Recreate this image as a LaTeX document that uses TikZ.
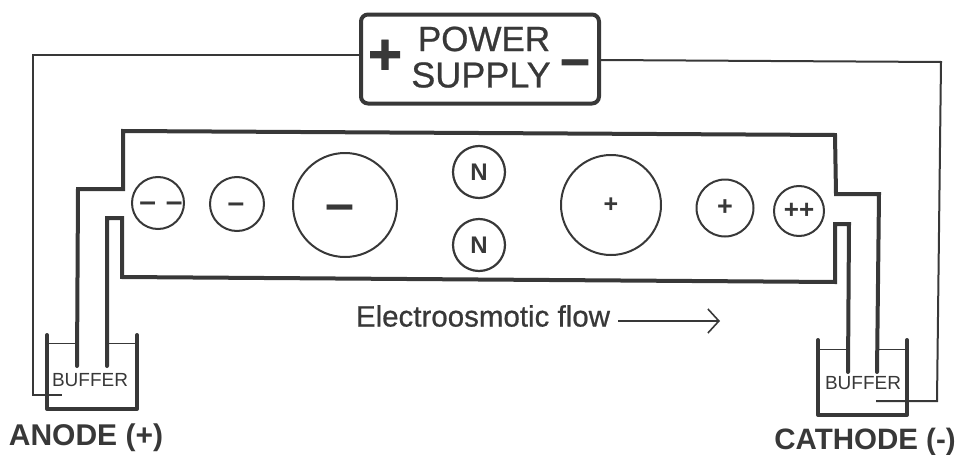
\documentclass[tikz,border=0pt]{standalone}
\usepackage{fontspec}
\setmainfont{Liberation Sans}
\newfontfamily\medf[FakeBold=0.7]{Liberation Sans}
\newfontfamily\heavyf[FakeBold=1.5]{Liberation Sans Bold}
\usetikzlibrary{arrows.meta}
\definecolor{ink}{HTML}{383838}
\tikzset{
  wall/.style={draw=ink,line width=4pt,line join=miter},
  beaker/.style={draw=ink,line width=4pt,line cap=round,line join=round},
  wire/.style={draw=ink,line width=2pt,line join=miter},
  liquid/.style={draw=ink,line width=0.8pt},
  ion/.style={draw=ink,line width=2pt,circle,inner sep=0pt,text=ink},
  lab/.style={text=ink,inner sep=0pt,anchor=center},
}
\begin{document}
\begin{tikzpicture}[x=1pt,y=-1pt]
\useasboundingbox (0,0) rectangle (956,455);
% power supply
\node[draw=ink,line width=4pt,rounded corners=7pt,minimum width=238pt,minimum height=89pt,inner sep=0pt] (ps) at (480,59) {};
\node[lab,font=\medf\fontsize{35}{35}\selectfont] (pw) at (484,39) {POWER};
\node[lab,font=\medf\fontsize{36}{36}\selectfont] (sp) at (481,75) {SUPPLY};
\node[lab,font=\heavyf\fontsize{58}{58}\selectfont] (pl) at (385,57) {+};
\node[lab,font=\heavyf\fontsize{52}{52}\selectfont] (mi) at (575,68) {–};
% capillary
\coordinate (ltop) at (123,131); \coordinate (rtop) at (835,135);
\coordinate (lstepa) at (123,189); \coordinate (lstepb) at (78,189); \coordinate (lend) at (77,366);
\coordinate (lbot) at (122,277); \coordinate (linb) at (122,218); \coordinate (lina) at (107,218); \coordinate (linend) at (107,366);
\coordinate (rstepa) at (836,194); \coordinate (rstepb) at (879,194); \coordinate (rend) at (877,372);
\coordinate (rbot) at (835,282); \coordinate (rinb) at (835,224); \coordinate (rina) at (849,224); \coordinate (rinend) at (848,372);
\draw[wall,line cap=round] (lend) -- (lstepb) -- (lstepa) -- (ltop) -- (rtop) -- (rstepa) -- (rstepb) -- (rend);
\draw[wall,line cap=round] (linend) -- (lina) -- (linb) -- (lbot) -- (rbot) -- (rinb) -- (rina) -- (rinend);
% beakers
\coordinate (la) at (47,335); \coordinate (lb) at (47,409); \coordinate (lc) at (137,409); \coordinate (ld) at (137,335);
\coordinate (ra) at (818,340); \coordinate (rb) at (818,415); \coordinate (rc) at (907,415); \coordinate (rd) at (907,340);
\draw[beaker] (la) -- (lb) -- (lc) -- (ld);
\draw[beaker] (ra) -- (rb) -- (rc) -- (rd);
\draw[liquid] (47,343) -- (77,343) (107,343) -- (137,343);
\draw[liquid] (818,349) -- (848,349) (878,349) -- (907,349);
% wires
\coordinate (wl1) at (33,55); \coordinate (wl2) at (33,395); \coordinate (wl3) at (62,395);
\coordinate (wr1) at (941,62); \coordinate (wr2) at (937,401); \coordinate (wr3) at (876,401);
\draw[wire] (ps.west |- wl1) -- (wl1) -- (wl2) -- (wl3);
\draw[wire] (ps.east |- 0,60) -- (wr1) -- (wr2) -- (wr3);
% ions
\node[ion,minimum size=52pt] (a) at (158,203) {};
\node[lab,font=\bfseries\fontsize{30}{30}\selectfont] (as) at (161,207) {–\,\,–};
\node[ion,minimum size=54pt] (b) at (237,204) {};
\node[lab,font=\bfseries\fontsize{30}{30}\selectfont] (bs) at (236,208) {–};
\node[ion,minimum size=104pt] (c) at (345,205) {};
\node[lab,font=\bfseries\fontsize{52}{52}\selectfont] (cs) at (340,213) {–};
\node[ion,minimum size=52pt,line width=2.2pt,font=\bfseries\fontsize{24}{24}\selectfont] (n1) at (479,172) {N};
\node[ion,minimum size=52pt,line width=2.2pt,font=\bfseries\fontsize{24}{24}\selectfont] (n2) at (479,245) {N};
\node[ion,minimum size=100pt,font=\bfseries\fontsize{25}{25}\selectfont] (d) at (611,205) {+};
\node[ion,minimum size=57pt,font=\bfseries\fontsize{27}{27}\selectfont] (e) at (725,208) {+};
\node[ion,minimum size=50pt,font=\bfseries\fontsize{26}{26}\selectfont] (f) at (799,211) {++};
% labels
\node[lab,font=\medf\fontsize{29.5}{30}\selectfont] (eo) at (483,316) {Electroosmotic flow};
\coordinate (arr) at (720,321);
\draw[ink,line width=1.6pt,-{Straight Barb[length=11pt,width=24pt]}] (618,321) -- (arr);
\node[lab,font=\fontsize{19}{19}\selectfont] (bl) at (90,380) {BUFFER};
\node[lab,font=\fontsize{19}{19}\selectfont] (br) at (863,383) {BUFFER};
\node[lab,font=\bfseries\fontsize{30}{30}\selectfont] (an) at (86,438) {ANODE (+)};
\node[lab,font=\bfseries\fontsize{29.5}{30}\selectfont] (ca) at (865,442) {CATHODE (-)};
\end{tikzpicture}
\end{document}
